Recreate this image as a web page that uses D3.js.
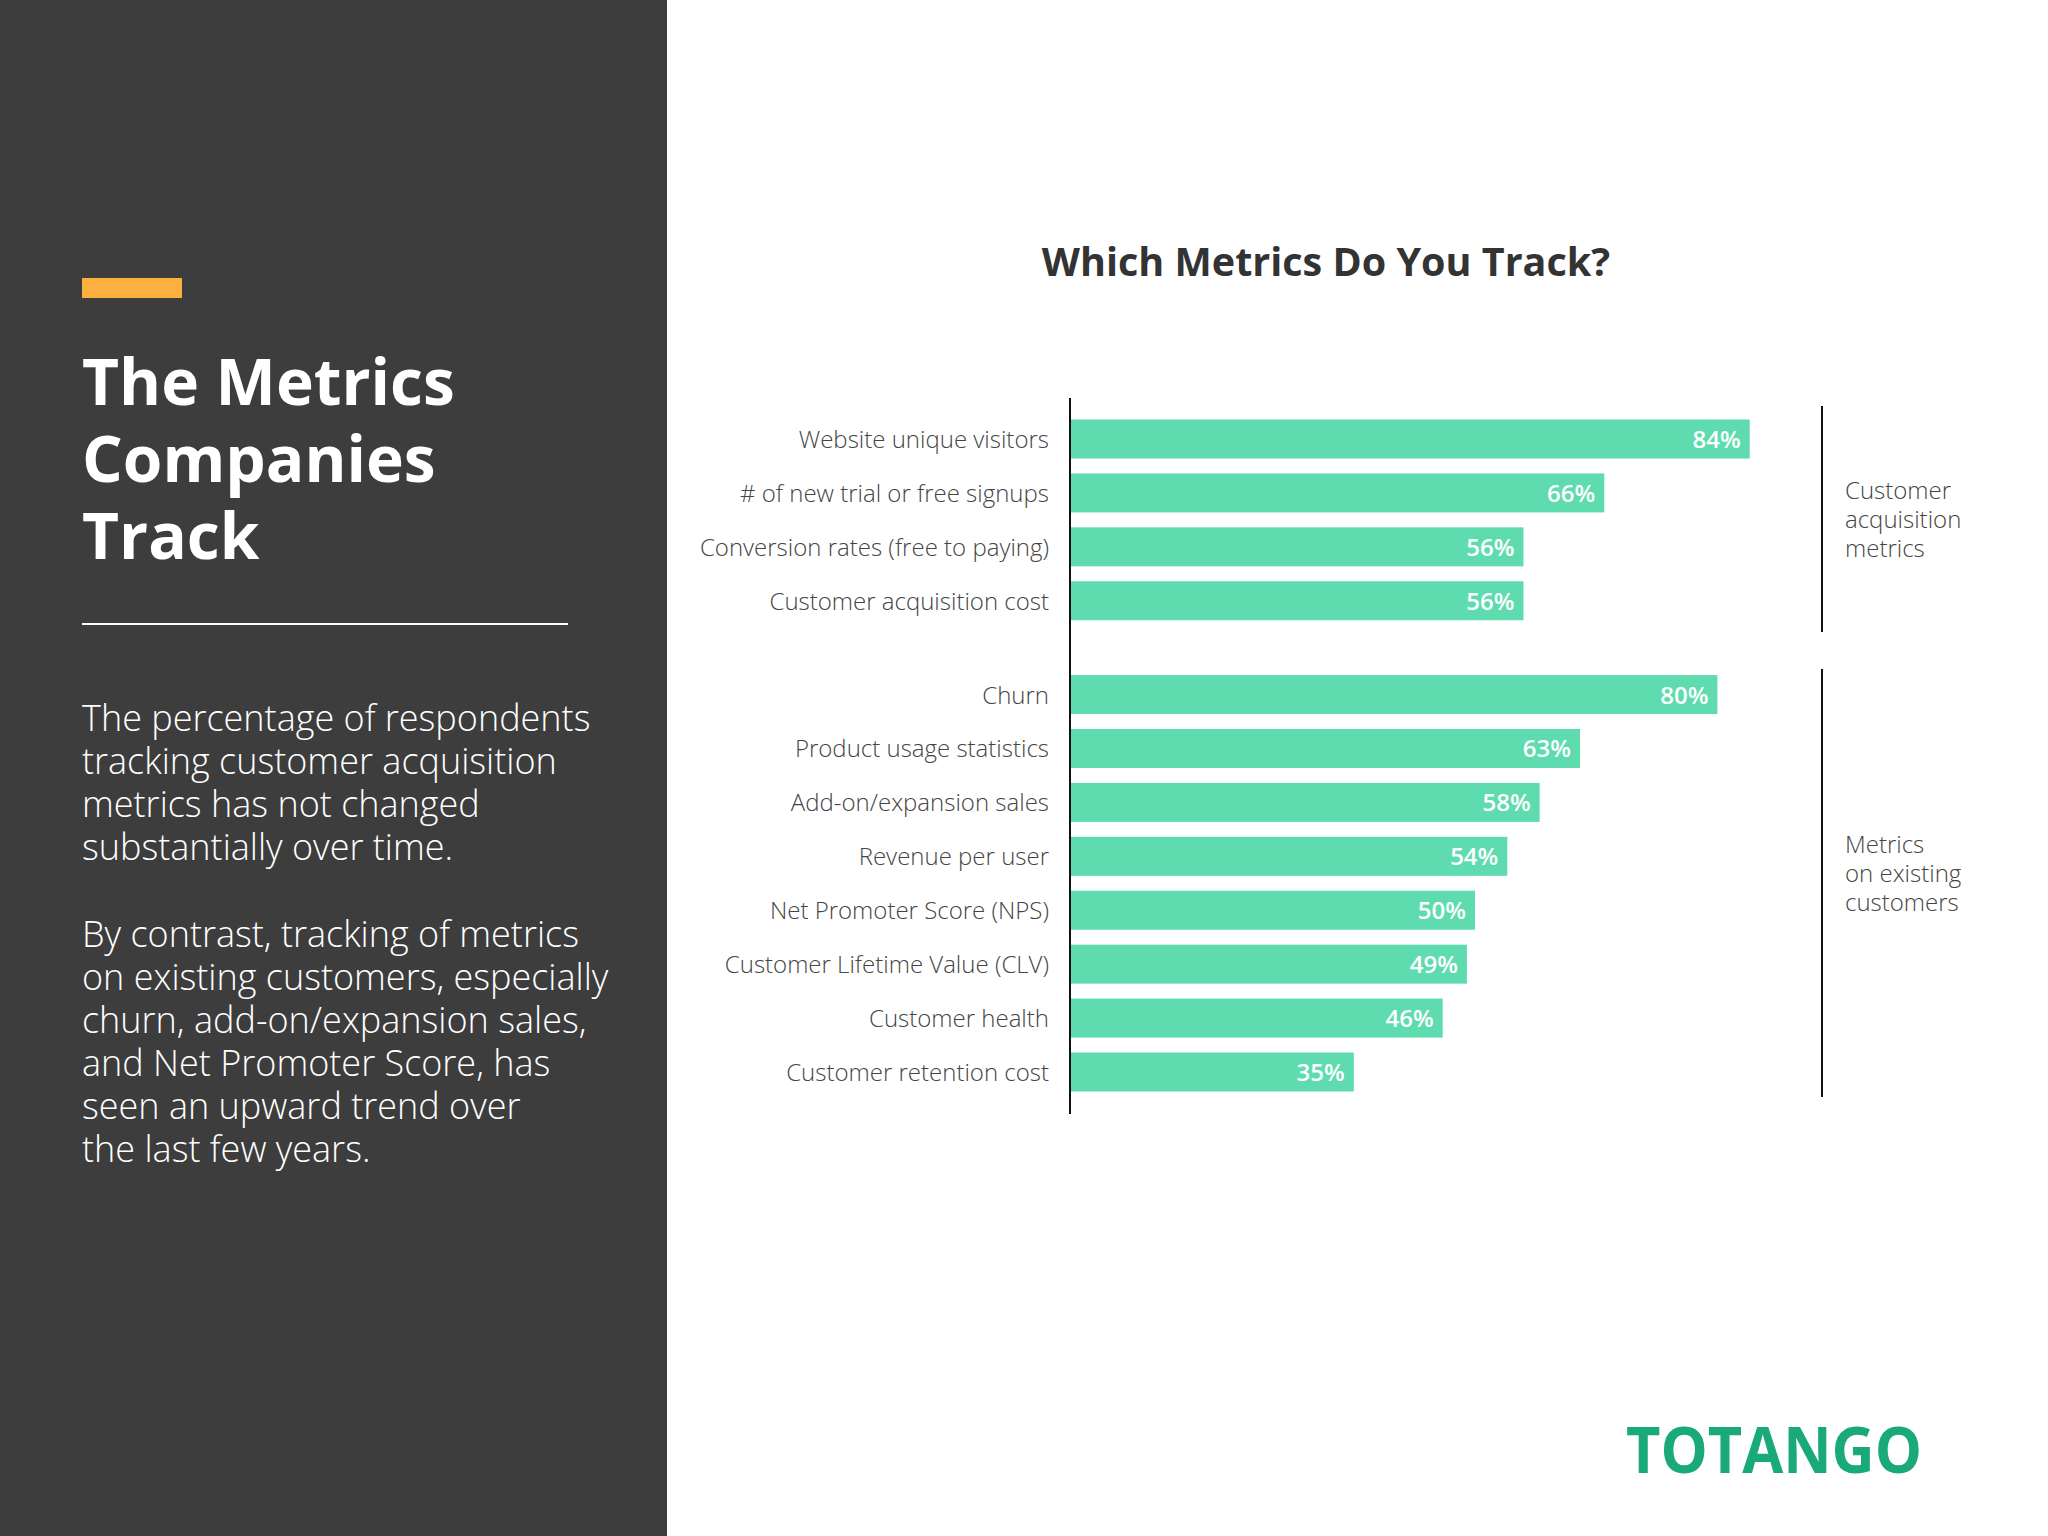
<!DOCTYPE html>
<html><head><meta charset="utf-8">
<script src="https://cdn.jsdelivr.net/npm/d3@7"></script>
<style>body{margin:0;background:#fff}svg{display:block}text{font-family:"Open Sans",sans-serif}</style>
</head><body><svg id="c" width="2048" height="1536"></svg>
<script>
const categories = ["Website unique visitors","# of new trial or free signups","Conversion rates (free to paying)","Customer acquisition cost","Churn","Product usage statistics","Add-on/expansion sales","Revenue per user","Net Promoter Score (NPS)","Customer Lifetime Value (CLV)","Customer health","Customer retention cost"];
const values = [84,66,56,56,80,63,58,54,50,49,46,35];
const groups = [0,0,0,0,1,1,1,1,1,1,1,1];
const groupLabels = [["Customer","acquisition","metrics"],["Metrics","on existing","customers"]];
const titleLines = ["The Metrics","Companies","Track"];
const para1 = ["The percentage of respondents","tracking customer acquisition","metrics has not changed","substantially over time."];
const para2 = ["By contrast, tracking of metrics","on existing customers, especially","churn, add-on/expansion sales,","and Net Promoter Score, has","seen an upward trend over","the last few years."];

const svg = d3.select("#c");
svg.append("rect").attr("width",667).attr("height",1536).attr("fill","#3d3d3d");
svg.append("rect").attr("x",82).attr("y",278).attr("width",100).attr("height",20).attr("fill","#fbb040");
titleLines.forEach((t,i)=>svg.append("text").attr("x",82).attr("y",405+i*77).attr("fill","#fff").attr("font-size",64).attr("font-weight",700).text(t));
svg.append("line").attr("x1",82).attr("x2",568).attr("y1",624).attr("y2",624).attr("stroke","#fff").attr("stroke-width",2);
para1.forEach((t,i)=>svg.append("text").attr("x",82).attr("y",731+i*43).attr("fill","#fff").attr("font-size",36).attr("font-weight",300).text(t));
para2.forEach((t,i)=>svg.append("text").attr("x",82).attr("y",947+i*43).attr("fill","#fff").attr("font-size",36).attr("font-weight",300).text(t));

svg.append("text").attr("x",1326).attr("y",276).attr("text-anchor","middle").attr("fill","#333").attr("font-size",39.5).attr("font-weight",700).text("Which Metrics Do You Track?");

const x = d3.scaleLinear().domain([0,100]).range([1071,1071+808]);
const slot = (i)=> i + (groups[i]?0.74:0);
const y = d3.scaleLinear().domain([0,11.74]).range([439,1072]);
const bh = 39;
const g = svg.append("g");
g.selectAll("rect.b").data(values).join("rect").attr("x",x(0)).attr("y",(d,i)=>y(slot(i))-bh/2)
 .attr("width",d=>x(d)-x(0)).attr("height",bh).attr("fill","#5edcb0");
g.selectAll("text.v").data(values).join("text").attr("x",d=>x(d)-9).attr("y",(d,i)=>y(slot(i))+9)
 .attr("text-anchor","end").attr("fill","#fff").attr("font-size",24).attr("font-weight",600).text(d=>d+"%");
g.selectAll("text.l").data(categories).join("text").attr("x",1049).attr("y",(d,i)=>y(slot(i))+9)
 .attr("text-anchor","end").attr("fill","#444").attr("font-size",24).attr("font-weight",300).text(d=>d);
svg.append("line").attr("x1",1070).attr("x2",1070).attr("y1",398).attr("y2",1114).attr("stroke","#111").attr("stroke-width",2);
[[406,632,0],[669,1097,-10]].forEach((r,k)=>{
  svg.append("line").attr("x1",1822).attr("x2",1822).attr("y1",r[0]).attr("y2",r[1]).attr("stroke","#111").attr("stroke-width",2);
  const c=(r[0]+r[1])/2+r[2];
  groupLabels[k].forEach((t,i)=>svg.append("text").attr("x",1845).attr("y",c+(i-1)*29+9).attr("fill","#444").attr("font-size",24).attr("font-weight",300).text(t));
});
svg.append("text").attr("x",1626).attr("y",1473).attr("textLength",296).attr("lengthAdjust","spacingAndGlyphs").attr("fill","#1aa97a").attr("font-size",64).attr("font-weight",700).text("TOTANGO");
</script></body></html>
